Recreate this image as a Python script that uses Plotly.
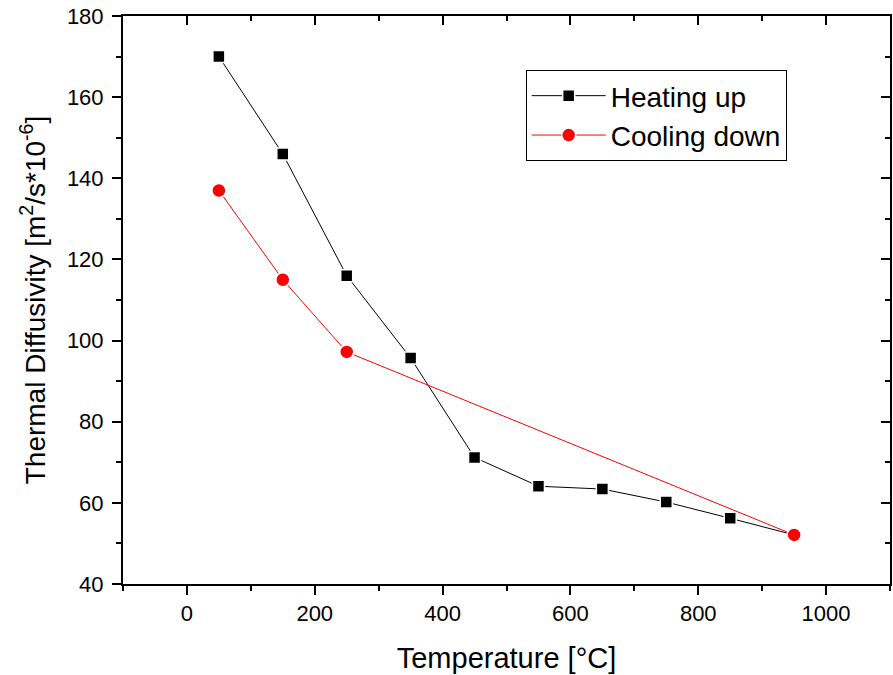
import plotly.graph_objects as go

temp_heat = [50, 150, 250, 350, 450, 550, 650, 750, 850, 950]
diff_heat = [170, 146, 116, 95.7, 71.2, 64.1, 63.4, 60.2, 56.2, 52.1]
temp_cool = [50, 150, 250, 950]
diff_cool = [137, 115, 97.2, 52.1]

x_ticks = [0, 200, 400, 600, 800, 1000]
y_ticks = [40, 60, 80, 100, 120, 140, 160, 180]

FONT = "Liberation Sans, Arial, sans-serif"

fig = go.Figure()
fig.add_trace(go.Scatter(
    x=temp_heat, y=diff_heat, mode="lines+markers", name="Heating up",
    line=dict(color="black", width=1),
    marker=dict(symbol="square", size=12, color="black", line=dict(color="white", width=1.5)),
))
fig.add_trace(go.Scatter(
    x=temp_cool, y=diff_cool, mode="lines+markers", name="Cooling down",
    line=dict(color="red", width=1),
    marker=dict(symbol="circle", size=14, color="red", line=dict(color="white", width=1.5)),
))
# invisible trace to activate mirrored top/right axes
fig.add_trace(go.Scatter(x=[500], y=[100], xaxis="x2", yaxis="y2", mode="markers",
                         marker=dict(opacity=0), showlegend=False, hoverinfo="skip"))

fig.update_layout(
    width=893, height=675,
    margin=dict(l=123, r=3, t=16, b=91),
    plot_bgcolor="white", paper_bgcolor="white",
    font=dict(family=FONT, color="black", size=22),
    showlegend=True,
    legend=dict(
        x=0.525, y=0.905, xanchor="left", yanchor="top",
        bordercolor="black", borderwidth=1, bgcolor="white",
        font=dict(size=28, family=FONT), itemwidth=74,
        tracegroupgap=0,
    ),
    xaxis=dict(
        range=[-100, 1100], tickvals=x_ticks, automargin=False, ticklabeloverflow="allow",
        ticks="outside", ticklen=9, tickwidth=2, tickcolor="black",
        minor=dict(ticks="outside", ticklen=5, tickwidth=2, dtick=100, tick0=0, tickcolor="black", showgrid=False),
        showline=True, linecolor="black", linewidth=2, showgrid=False, zeroline=False,
        title=dict(text="Temperature [°C]", font=dict(size=29), standoff=22),
        tickfont=dict(size=22),
    ),
    yaxis=dict(
        range=[40, 180], tickvals=y_ticks, automargin=False, ticklabeloverflow="allow",
        ticks="outside", ticklen=9, tickwidth=2, tickcolor="black", ticklabelstandoff=4,
        minor=dict(ticks="outside", ticklen=5, tickwidth=2, dtick=10, tick0=40, tickcolor="black", showgrid=False),
        showline=True, linecolor="black", linewidth=2, showgrid=False, zeroline=False,
        title=dict(text="Thermal Diffusivity [m<sup>2</sup>/s*10<sup>-6</sup>]", font=dict(size=28), standoff=13),
        tickfont=dict(size=22),
    ),
    xaxis2=dict(
        overlaying="x", side="top", range=[-100, 1100], automargin=False,
        tickvals=x_ticks, showticklabels=False,
        ticks="inside", ticklen=9, tickwidth=2, tickcolor="black",
        minor=dict(ticks="inside", ticklen=5, tickwidth=2, dtick=100, tick0=0, tickcolor="black", showgrid=False),
        showline=True, linecolor="black", linewidth=2, showgrid=False, zeroline=False,
    ),
    yaxis2=dict(
        overlaying="y", side="right", range=[40, 180], automargin=False,
        tickvals=y_ticks, showticklabels=False,
        ticks="inside", ticklen=9, tickwidth=2, tickcolor="black",
        minor=dict(ticks="inside", ticklen=5, tickwidth=2, dtick=10, tick0=40, tickcolor="black", showgrid=False),
        showline=True, linecolor="black", linewidth=2, showgrid=False, zeroline=False,
    ),
)

# remove the browser's default 8px page margin so the figure fills the window exactly
fig.write_html(
    "out.html",
    config={"displayModeBar": False},
    post_script="document.body.style.margin='0';document.body.style.overflow='hidden';",
)
